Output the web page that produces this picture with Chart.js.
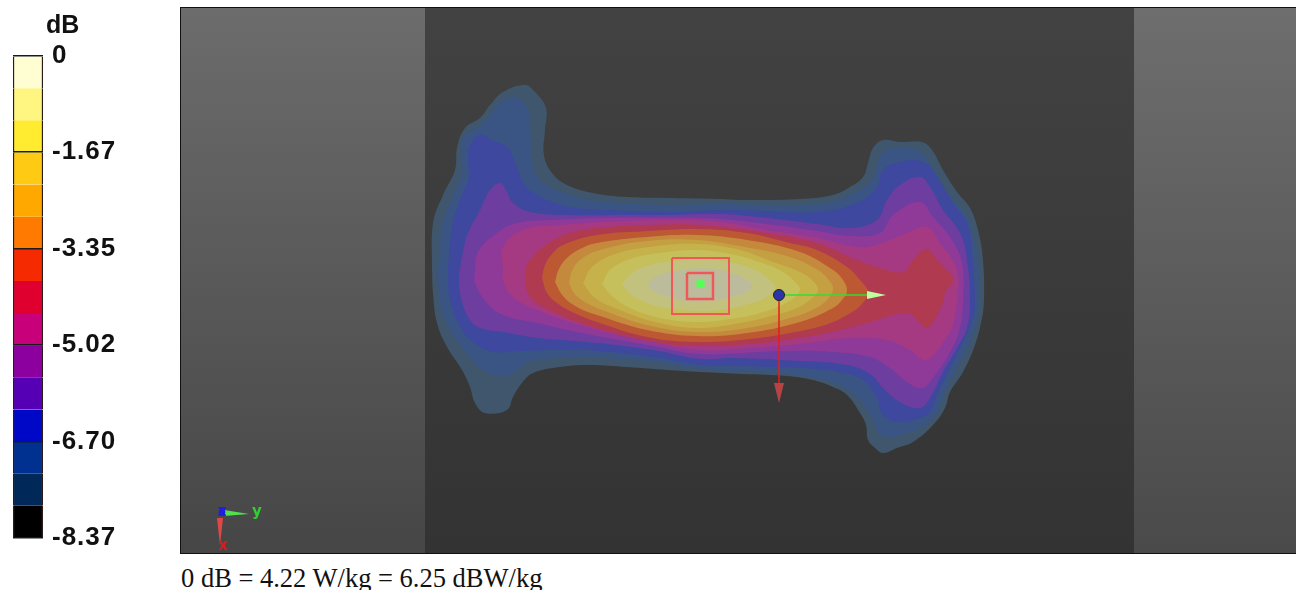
<!DOCTYPE html>
<html>
<head>
<meta charset="utf-8">
<style>
  html, body { margin: 0; padding: 0; background: #fff; width: 1296px; height: 590px; overflow: hidden; }
  #barBox { position: absolute; left: 0; top: 0; width: 180px; height: 590px; }
  #plotBox { position: absolute; left: 180px; top: 7px; width: 1116px; height: 547px; box-sizing: border-box; border: 1px solid #111; border-right: 0; }
  #unit { position: absolute; left: 46px; top: 10px; font: bold 25px "Liberation Sans"; color: #111; }
  #caption { position: absolute; left: 181px; top: 563px; font: 26.5px "Liberation Serif"; color: #111; white-space: nowrap; }
  canvas { display: block; }
</style>
</head>
<body>
<div id="barBox"><canvas id="barChart" width="180" height="590"></canvas></div>
<div id="unit">dB</div>
<div id="plotBox"><canvas id="plotChart" width="1115" height="545"></canvas></div>
<div id="caption">0 dB = 4.22 W/kg = 6.25 dBW/kg</div>
<script src="https://cdn.jsdelivr.net/npm/chart.js@4"></script>
<script>
// Colour bar
const tickValues = [0, -1.67, -3.35, -5.02, -6.70, -8.37];
const tickLabels = ['0', '-1.67', '-3.35', '-5.02', '-6.70', '-8.37'];
const bandSteps = [-0.558, -0.558, -0.558, -0.558, -0.558, -0.558, -0.558, -0.558, -0.558, -0.558, -0.558, -0.558, -0.558, -0.558, -0.558];
const bandColors = ['#fffdd2', '#fff682', '#ffeb30', '#ffca14', '#ffa800', '#ff7a00', '#f52a00', '#e00030',
                    '#c8007a', '#8c00a0', '#5500b5', '#0008c8', '#003090', '#002858', '#000000'];

// Contours of the field, outermost first, in the plot's view units
const contourSlate = [[432,270],[433,223],[443,195],[455,170],[457,148],[465,128],[480,118],[490,105],[503,92],[525,85],[535,92],[546,108],[545,130],[544,155],[552,173],[567,185],[593,193],[627,197],[673,198],[720,199],[743,200],[800,199],[833,195],[850,187],[863,177],[868,163],[873,148],[883,140],[900,142],[922,142],[932,150],[943,170],[957,192],[970,208],[978,230],[983,260],[984,300],[982,318],[975,345],[963,372],[950,392],[945,408],[933,425],[913,442],[897,448],[883,453],[875,448],[868,440],[866,425],[860,413],[847,395],[833,387],[813,380],[787,376],[743,374],[700,372],[667,370],[627,367],[590,365],[560,367],[533,373],[522,383],[513,397],[507,410],[485,413],[475,403],[470,387],[462,370],[447,347],[437,323],[433,293],[432,270]];
const contourSlateBlue = [[438,270],[442,227],[452,198],[462,173],[461,153],[463,138],[478,127],[488,118],[500,103],[515,97],[527,107],[530,127],[532,160],[537,177],[552,188],[580,198],[620,203],[673,205],[720,204],[767,205],[800,205],[833,202],[857,192],[872,180],[877,165],[883,152],[900,148],[920,152],[933,168],[948,193],[967,217],[975,243],[979,270],[979,300],[978,315],[970,342],[957,368],[945,392],[937,413],[920,428],[900,435],[887,438],[878,432],[872,418],[860,400],[843,387],[820,379],[787,374],[733,371],[700,369],[653,362],[603,358],[560,358],[530,362],[520,368],[510,375],[497,376],[480,368],[470,357],[453,335],[442,310],[438,280],[438,270]];
const contourBlue = [[448,270],[452,227],[460,200],[469,177],[468,157],[470,145],[480,135],[492,140],[508,148],[517,167],[525,185],[543,198],[570,207],[607,210],[673,212],[720,210],[767,211],[817,212],[857,203],[877,187],[883,170],[900,162],[923,162],[937,177],[953,203],[967,223],[972,253],[975,300],[973,318],[963,342],[950,368],[937,395],[930,412],[913,420],[897,422],[883,415],[877,398],[863,380],[840,372],[800,368],[733,366],[700,365],[653,357],[587,350],[553,350],[520,351],[495,352],[477,345],[462,330],[450,300],[448,270]];
const contourViolet = [[460,270],[462,257],[468,233],[480,210],[490,190],[500,183],[507,192],[512,202],[530,212],[570,215],[627,215],[673,215],[720,214],[767,218],[817,224],[850,228],[877,220],[887,200],[900,185],[920,177],[930,187],[943,210],[960,233],[967,260],[970,300],[967,328],[957,348],[943,372],[930,398],[920,408],[900,402],[883,388],[870,374],[847,365],[800,361],[733,358],[700,359],[653,350],[587,342],[537,338],[503,332],[480,328],[468,317],[460,293],[459,273],[460,270]];
const contourPurple = [[475,270],[478,252],[497,233],[517,223],[553,220],[603,218],[673,218],[720,219],[767,224],[817,231],[850,236],[880,233],[893,215],[920,202],[933,217],[950,237],[962,263],[963,300],[960,328],[950,352],[933,378],[922,388],[907,382],[890,368],[870,357],[833,352],[783,351],[700,354],[653,346],[587,334],[537,323],[503,315],[487,303],[475,283],[475,270]];
const contourMagenta = [[503,270],[503,247],[523,230],[560,225],[607,222],[673,220],[720,222],[767,230],[817,238],[850,246],[867,247],[890,240],[907,233],[927,227],[940,243],[957,270],[957,300],[953,325],[948,335],[927,360],[910,350],[887,340],[850,338],[800,344],[750,348],[700,350],[653,342],[587,327],[537,310],[513,297],[503,280],[503,270]];
const contourCrimson = [[525,270],[530,260],[543,247],[570,233],[607,227],[653,225],[700,225],[767,233],[817,243],[850,257],[880,268],[903,272],[913,260],[927,249],[937,260],[953,279],[945,293],[942,305],[928,328],[920,323],[907,313],[867,323],[817,335],[750,344],[700,346],[660,343],[603,330],[553,312],[530,297],[525,280],[525,270]];
const contourRed = [[542,278],[545,265],[552,254],[563,245],[597,235],[647,231],[697,229],[747,233],[790,243],[817,250],[847,267],[860,280],[868,292],[861,305],[847,315],[825,325],[790,333],[750,339],[697,342],[647,337],[597,322],[570,311],[557,303],[547,293],[542,278]];
const contourOrange = [[555,282],[559,269],[567,258],[580,249],[597,243],[647,237],[697,235],[747,240],[800,252],[833,270],[843,280],[847,291],[842,300],[833,308],[800,322],[747,333],[697,336],[647,330],[597,315],[577,307],[563,296],[555,282]];
const contourAmber = [[569,283],[572,271],[580,260],[600,250],[647,241],[697,240],[750,248],[790,257],[818,270],[828,279],[833,289],[826,301],[810,311],[790,318],[747,328],[697,332],[647,325],[605,311],[585,302],[574,293],[569,283]];
const contourGold = [[583,283],[592,267],[615,254],[650,247],[697,244],[740,250],[773,262],[800,272],[812,280],[818,290],[811,299],[797,308],[775,315],[740,323],[697,328],[655,322],[620,310],[595,298],[583,283]];
const contourYellow = [[602,284],[610,270],[630,259],[660,253],[697,250],[735,255],[765,264],[783,272],[794,281],[800,290],[788,302],[760,313],[730,319],[697,322],[660,318],[630,308],[612,296],[602,284]];
const contourPale = [[622,284],[632,273],[650,265],[675,261],[700,259],[730,262],[755,270],[770,280],[775,288],[765,298],[745,305],[720,310],[695,311],[665,308],[642,301],[628,292],[622,284]];
const contourPalest = [[647,284],[655,277],[670,272],[690,269],[705,268],[725,271],[742,277],[752,285],[745,293],[728,298],[705,302],[685,301],[665,296],[652,290],[647,284]];
const contourColors = ['#3f566c', '#3a5584', '#3d489e', '#6e3da0', '#8f3a98', '#a53a82', '#b03a50', '#bc5832',
                       '#c5893e', '#c4a042', '#c6b24a', '#c5bf5c', '#c2c27e', '#bcbc9c'];

// Background panels
const panelLeft = [[181,8],[425,8],[425,553],[181,553],[181,8]];
const panelMiddle = [[425,8],[1134,8],[1134,553],[425,553],[425,8]];
const panelRight = [[1134,8],[1296,8],[1296,553],[1134,553],[1134,8]];

// Peak markers and the probe / corner axes
const boxOuter = [[672,258],[729,258],[729,314],[672,314],[672,258]];
const boxInner = [[687,273],[713,273],[713,299],[687,299],[687,273]];
const peakPoint = [[700.5,284]];
const probeOrigin = [[779,295]];
const probeLineY = [[779,295],[868,295]];
const probeConeY = [[867,291],[886,295],[867,299],[867,291]];
const probeLineX = [[779,295],[779,384]];
const probeConeX = [[774,383],[784,383],[779,403],[774,383]];
const triadConeY = [[224,510],[249,514],[224,516],[224,510]];
const triadConeX = [[217,518],[223,518],[220,545],[217,518]];
const triadOrigin = [[222,512]];
const triadLabels = [{ text: 'y', x: 257, y: 512, color: '#2fd02f' }, { text: 'z', x: 222, y: 512, color: '#2020e0' }, { text: 'x', x: 223, y: 546, color: '#d02020' }];

const tickSpacing = {
    id: 'tickSpacing',
    beforeDraw(chart) { chart.ctx.letterSpacing = '1px'; }
};

new Chart(document.getElementById('barChart'), {
    type: 'bar',
    data: {
        labels: ['dB'],
        datasets: bandSteps.map((step, i) => ({
            data: [step],
            backgroundColor: bandColors[i],
            borderColor: '#2a1a1a',
            borderWidth: { left: 1.5, right: 1.5 },
            borderSkipped: false,
            barPercentage: 1,
            categoryPercentage: 1
        }))
    },
    plugins: [tickSpacing],
    options: {
        responsive: false,
        animation: false,
        layout: { padding: { left: 13, top: 56, bottom: 52 } },
        plugins: { legend: { display: false }, tooltip: { enabled: false } },
        scales: {
            x: { stacked: true, display: false },
            y: {
                stacked: true,
                position: 'right',
                min: -8.37,
                max: 0,
                afterBuildTicks: (scale) => { scale.ticks = tickValues.map(v => ({ value: v })); },
                afterFit: (scale) => { scale.width = 137; },
                border: { display: false },
                grid: { color: '#1a1a1a', lineWidth: 1.5, z: 1, drawTicks: false },
                ticks: {
                    autoSkip: false,
                    padding: 9,
                    color: '#111',
                    font: { family: '"Liberation Sans"', weight: 'bold', size: 26 },
                    callback: (v, i) => tickLabels[i]
                }
            }
        }
    }
});

const plotCanvas = document.getElementById('plotChart');
const g = plotCanvas.getContext('2d');
function vGrad(top, bottom) {
    const grad = g.createLinearGradient(0, 0, 0, 545);
    grad.addColorStop(0, top);
    grad.addColorStop(1, bottom);
    return grad;
}
function hGrad(x0, x1, from, to) {
    const grad = g.createLinearGradient(x0, 0, x1, 0);
    grad.addColorStop(0, from);
    grad.addColorStop(1, to);
    return grad;
}

const area = (data, color, tension = 0) => ({ data, backgroundColor: color, borderColor: 'transparent', borderWidth: 0, fill: 'shape', tension, showLine: true, pointRadius: 0 });
const line = (data, color, width) => ({ data, borderColor: color, borderWidth: width, fill: false, tension: 0, showLine: true, pointRadius: 0 });
const dot = (data, color, radius, style = 'circle', edge = '#222') => ({ data, backgroundColor: color, borderColor: edge, borderWidth: 1, pointStyle: style, pointRadius: radius, showLine: false });

const contours = [contourSlate, contourSlateBlue, contourBlue, contourViolet, contourPurple, contourMagenta, contourCrimson,
                  contourRed, contourOrange, contourAmber, contourGold, contourYellow, contourPale, contourPalest];

// paint order, bottom to top
const layers = [
    area(panelLeft, vGrad('#6c6c6c', '#464646')),
    area(panelRight, vGrad('#6e6e6e', '#4a4a4a')),
    area(panelMiddle, vGrad('#424242', '#333333')),
    ...contours.map((c, i) => area(c, contourColors[i], 0.4)),
    line(boxOuter, '#f05858', 2),
    line(boxInner, '#f05858', 2.5),
    dot(peakPoint, '#55ff55', 5, 'rect', '#55ff55'),
    line(probeLineY, '#33dd33', 1.5),
    area(probeConeY, hGrad(867, 886, '#c0ffa0', '#50e050')),
    line(probeLineX, '#e81c1c', 1.5),
    area(probeConeX, vGrad('#e83838', '#a04848')),
    dot(probeOrigin, '#2b35a8', 5.5),
    area(triadConeY, hGrad(224, 249, '#50e050', '#a0f0a0')),
    area(triadConeX, '#e04848'),
    dot(triadOrigin, '#2020d0', 3, 'circle', '#2020d0')
];

const axisLetters = {
    id: 'axisLetters',
    afterDatasetsDraw(chart) {
        const { ctx, scales } = chart;
        ctx.save();
        ctx.font = 'bold 15px "DejaVu Sans"';
        ctx.textAlign = 'center';
        ctx.textBaseline = 'middle';
        triadLabels.forEach(l => {
            ctx.fillStyle = l.color;
            ctx.fillText(l.text, scales.x.getPixelForValue(l.x), scales.y.getPixelForValue(l.y));
        });
        ctx.restore();
    }
};

new Chart(plotCanvas, {
    type: 'scatter',
    data: { datasets: layers.reverse() },
    plugins: [axisLetters],
    options: {
        responsive: false,
        animation: false,
        layout: { autoPadding: false },
        plugins: { legend: { display: false }, tooltip: { enabled: false } },
        scales: {
            x: { type: 'linear', min: 181, max: 1296, display: false },
            y: { type: 'linear', min: 8, max: 553, reverse: true, display: false }
        }
    }
});
</script>
</body>
</html>
